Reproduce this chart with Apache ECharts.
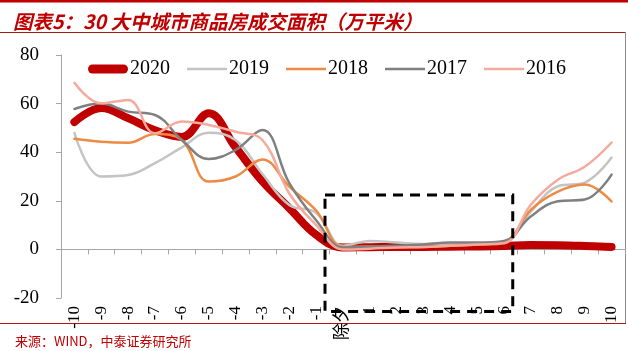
<!DOCTYPE html>
<html>
<head>
<meta charset="utf-8">
<script src="https://cdn.jsdelivr.net/npm/echarts@6/dist/echarts.min.js"></script>
<style>
  html, body { margin: 0; padding: 0; background: #fff; }
  #main { width: 628px; height: 351px; }
</style>
</head>
<body>
<div id="main"></div>
<script>
// 春节前后天数
var days = ['-10', '-9', '-8', '-7', '-6', '-5', '-4', '-3', '-2', '-1', '除夕',
  '1', '2', '3', '4', '5', '6', '7', '8', '9', '10']
var yTicks = [-20, 0, 20, 40, 60, 80]

// 30大中城市商品房成交面积（万平米）
var s2020 = [52.4, 58.2, 54, 49, 46.3, 56, 42, 28, 17, 6, 0.8, 0.9, 1, 1, 1.1, 1.2, 1.4, 1.8, 1.7, 1.4, 1]
var s2019 = [47.9, 30, 30.6, 35.5, 42, 48, 45, 31, 18.3, 15, 1.5, 3.5, 2.8, 2.2, 2.3, 2.5, 3, 15.6, 26, 27.5, 37.8]
var s2018 = [45.5, 44.3, 43.9, 47.5, 45, 27.9, 30, 37, 25.8, 16, 1, 1.2, 1, 1, 1.5, 2, 3, 16.4, 23.8, 26.7, 19.7]
var s2017 = [57.8, 60, 56.7, 55.3, 45, 37.2, 40.9, 49.1, 27.3, 12, 0.8, 1.2, 1.5, 2, 2.8, 2.8, 3.5, 13.6, 19.8, 20.5, 30.8]
var s2016 = [68.6, 60.1, 61.5, 47.8, 52.6, 51.2, 48.4, 45, 23, 10, 0, 0.3, 0.8, 1, 1.5, 2, 2.5, 18.5, 28.7, 34, 44]

// 虚线框范围：从“-1”到“6”
var boxFrom = '-1'
var boxTo = '6'
var boxTop = 22.4
var boxBottom = -25.6

var serif = 'Liberation Serif, Noto Sans CJK SC, serif'
// 图例线条：2020 粗线，其余细线
var thickIcon = 'path://M4.5,0 L35.5,0 A4.5,4.5 0 0 1 35.5,9 L4.5,9 A4.5,4.5 0 0 1 4.5,0 Z'
var thinIcon = 'path://M0,0 L40,0 L40,2.5 L0,2.5 Z'

function makeLine(name, data, color, width) {
  return {
    name: name,
    type: 'line',
    data: data,
    smooth: 0.4,
    symbol: 'none',
    lineStyle: { color: color, width: width, cap: 'round', join: 'round' },
    itemStyle: { color: color },
    emphasis: { disabled: true }
  }
}

var chart = echarts.init(document.getElementById('main'))

var option = {
  animation: false,
  title: [
    {
      text: '图表5：30 大中城市商品房成交面积（万平米）',
      left: 8,
      top: 7,
      textStyle: {
        color: '#C00000',
        fontSize: 19.5,
        fontWeight: 'bold',
        fontStyle: 'italic',
        fontFamily: 'Noto Sans CJK SC'
      }
    },
    {
      text: '来源：WIND，中泰证券研究所',
      left: 10,
      top: 330,
      textStyle: {
        color: '#C00000',
        fontSize: 13,
        fontWeight: 'normal',
        fontFamily: 'Noto Sans CJK SC'
      }
    }
  ],
  legend: {
    left: 83,
    top: 54,
    itemWidth: 40,
    itemHeight: 20,
    itemGap: 17,
    symbolKeepAspect: true,
    textStyle: {
      fontFamily: serif,
      fontSize: 20,
      color: '#000',
      padding: [0, 0, 0, -3]
    },
    data: [
      { name: '2020', icon: thickIcon },
      { name: '2019', icon: thinIcon },
      { name: '2018', icon: thinIcon },
      { name: '2017', icon: thinIcon },
      { name: '2016', icon: thinIcon }
    ]
  },
  grid: {
    left: 61,
    right: 3,
    top: 55,
    bottom: 53,
    containLabel: false
  },
  xAxis: {
    type: 'category',
    data: days,
    boundaryGap: true,
    axisLine: { lineStyle: { color: '#A6A6A6', width: 1 } },
    axisTick: { show: true, length: 5, lineStyle: { color: '#A6A6A6' } },
    axisLabel: {
      rotate: 90,
      interval: 0,
      margin: 8,
      color: '#000',
      fontSize: 17,
      fontFamily: serif
    }
  },
  yAxis: {
    type: 'value',
    min: yTicks[0],
    max: yTicks[yTicks.length - 1],
    interval: 20,
    splitLine: { show: false },
    axisLine: { show: true, lineStyle: { color: '#A6A6A6', width: 1 } },
    axisTick: { show: true, length: 5, lineStyle: { color: '#A6A6A6' } },
    axisLabel: {
      margin: 22,
      color: '#000',
      fontSize: 19,
      fontFamily: serif
    }
  },
  series: [
    makeLine('2020', s2020, '#C00000', 8),
    makeLine('2019', s2019, '#C4C4C4', 2.5),
    makeLine('2018', s2018, '#ED8A43', 2.5),
    makeLine('2017', s2017, '#808080', 2.5),
    makeLine('2016', s2016, '#F4AA9C', 2.5)
  ]
}

chart.setOption(option)

// 边框线与虚线框
var a = chart.convertToPixel({ gridIndex: 0 }, [boxFrom, boxTop])
var b = chart.convertToPixel({ gridIndex: 0 }, [boxTo, boxBottom])
var band = chart.convertToPixel({ gridIndex: 0 }, ['除夕', 0])[0] - a[0]
var x1 = a[0] + band * 0.33
var x2 = b[0] + band * 0.32

chart.setOption({
  graphic: [
    { type: 'rect', shape: { x: 0, y: 0, width: 628, height: 2.5 }, style: { fill: '#C00000' }, silent: true },
    { type: 'line', shape: { x1: 0, y1: 32.5, x2: 626, y2: 32.5 }, style: { stroke: '#A31A1A', lineWidth: 1 }, silent: true },
    { type: 'line', shape: { x1: 625.5, y1: 32, x2: 625.5, y2: 323 }, style: { stroke: '#8C8C8C', lineWidth: 1 }, silent: true },
    { type: 'line', shape: { x1: 0, y1: 323.5, x2: 626, y2: 323.5 }, style: { stroke: '#B01515', lineWidth: 1 }, silent: true },
    {
      type: 'rect',
      shape: { x: x1, y: a[1], width: x2 - x1, height: b[1] - a[1] },
      style: { fill: 'none', stroke: '#000', lineWidth: 3, lineDash: [10, 7] },
      z: 10,
      silent: true
    }
  ]
})
</script>
</body>
</html>
